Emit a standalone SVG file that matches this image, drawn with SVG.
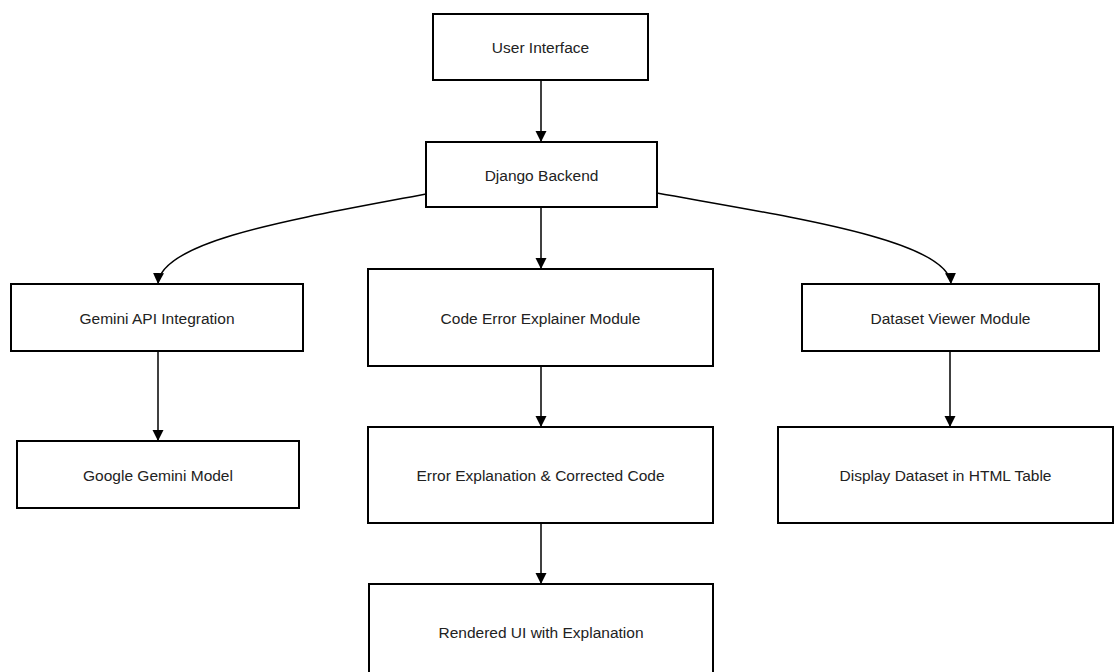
<svg xmlns="http://www.w3.org/2000/svg" width="1115" height="672" viewBox="0 0 1115 672">
<defs>
<marker id="arr" markerUnits="userSpaceOnUse" markerWidth="12" markerHeight="12" viewBox="0 0 12 12" refX="11" refY="6" orient="auto">
<path d="M0,0.5 L11,6 L0,11.5 Z" fill="#000"/>
</marker>
<style>
.box{fill:#fff;stroke:#000;stroke-width:2}
.lbl{font-family:"Liberation Sans",Arial,sans-serif;font-size:15.5px;fill:#222;text-anchor:middle;dominant-baseline:central}
.edge{fill:none;stroke:#000;stroke-width:1.5;marker-end:url(#arr)}
</style>
</defs>
<rect width="1115" height="672" fill="#fff"/>
<g id="connectors">
<path class="edge" d="M541,80 L541,142"/>
<path class="edge" d="M426,194 C300,218 160,240 158,284"/>
<path class="edge" d="M541,207 L541,269"/>
<path class="edge" d="M657,193 C790,217 949,240 951,284"/>
<path class="edge" d="M158,351 L158,441"/>
<path class="edge" d="M541,366 L541,427"/>
<path class="edge" d="M950,351 L950,427"/>
<path class="edge" d="M541,523 L541,584"/>
</g>
<g id="user-interface"><rect class="box" x="433" y="14" width="215" height="66"/><text class="lbl" x="540.5" y="47">User Interface</text></g>
<g id="django-backend"><rect class="box" x="426" y="142" width="231" height="65"/><text class="lbl" x="541.5" y="175">Django Backend</text></g>
<g id="gemini-api"><rect class="box" x="11" y="284" width="292" height="67"/><text class="lbl" x="157" y="318">Gemini API Integration</text></g>
<g id="code-error"><rect class="box" x="368" y="269" width="345" height="97"/><text class="lbl" x="540.5" y="318">Code Error Explainer Module</text></g>
<g id="dataset-viewer"><rect class="box" x="802" y="284" width="297" height="67"/><text class="lbl" x="950.5" y="318">Dataset Viewer Module</text></g>
<g id="google-gemini"><rect class="box" x="17" y="441" width="282" height="67"/><text class="lbl" x="158" y="475">Google Gemini Model</text></g>
<g id="error-explanation"><rect class="box" x="368" y="427" width="345" height="96"/><text class="lbl" x="540.5" y="475">Error Explanation &amp; Corrected Code</text></g>
<g id="display-dataset"><rect class="box" x="778" y="427" width="335" height="96"/><text class="lbl" x="945.5" y="475">Display Dataset in HTML Table</text></g>
<g id="rendered-ui"><rect class="box" x="369" y="584" width="344" height="92"/><text class="lbl" x="541" y="632">Rendered UI with Explanation</text></g>
</svg>
